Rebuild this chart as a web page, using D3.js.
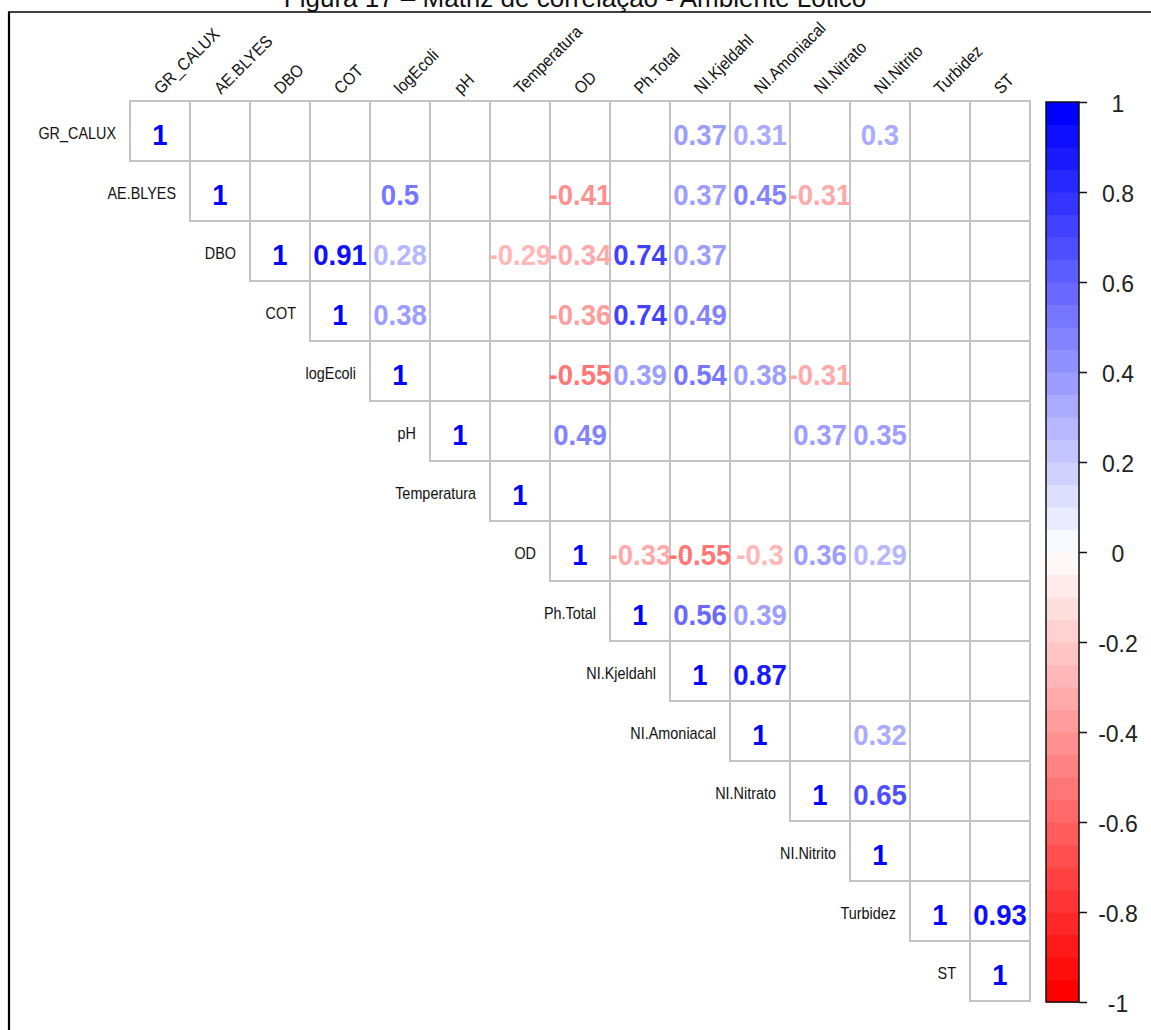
<!DOCTYPE html>
<html>
<head>
<meta charset="utf-8">
<script src="https://cdn.jsdelivr.net/npm/d3@7"></script>
<style>
  html, body { margin: 0; padding: 0; background: #fff; }
  svg { display: block; }
  text { font-family: "Liberation Sans", Arial, sans-serif; }
</style>
</head>
<body>
<svg id="chart" width="1151" height="1030"></svg>
<script>
// Variables of the correlation matrix (rows and columns share this order)
const variables = ["GR_CALUX", "AE.BLYES", "DBO", "COT", "logEcoli", "pH", "Temperatura",
  "OD", "Ph.Total", "NI.Kjeldahl", "NI.Amoniacal", "NI.Nitrato", "NI.Nitrito", "Turbidez", "ST"];

// Upper triangle, one row per variable, starting at the diagonal; null = not shown
const rowGR_CALUX   = [1, null, null, null, null, null, null, null, null, 0.37, 0.31, null, 0.3, null, null];
const rowAE_BLYES   = [1, null, null, 0.5, null, null, -0.41, null, 0.37, 0.45, -0.31, null, null, null];
const rowDBO        = [1, 0.91, 0.28, null, -0.29, -0.34, 0.74, 0.37, null, null, null, null, null];
const rowCOT        = [1, 0.38, null, null, -0.36, 0.74, 0.49, null, null, null, null, null];
const rowLogEcoli   = [1, null, null, -0.55, 0.39, 0.54, 0.38, -0.31, null, null, null];
const rowPH         = [1, null, 0.49, null, null, null, 0.37, 0.35, null, null];
const rowTemperatura= [1, null, null, null, null, null, null, null, null];
const rowOD         = [1, -0.33, -0.55, -0.3, 0.36, 0.29, null, null];
const rowPhTotal    = [1, 0.56, 0.39, null, null, null, null];
const rowKjeldahl   = [1, 0.87, null, null, null, null];
const rowAmoniacal  = [1, null, 0.32, null, null];
const rowNitrato    = [1, 0.65, null, null];
const rowNitrito    = [1, null, null];
const rowTurbidez   = [1, 0.93];
const rowST         = [1];

const corrRows = [rowGR_CALUX, rowAE_BLYES, rowDBO, rowCOT, rowLogEcoli, rowPH, rowTemperatura,
  rowOD, rowPhTotal, rowKjeldahl, rowAmoniacal, rowNitrato, rowNitrito, rowTurbidez, rowST];

// Colour legend ticks
const legendTicks = [-1, -0.8, -0.6, -0.4, -0.2, 0, 0.2, 0.4, 0.6, 0.8, 1];

const titleText = "Figura 17 – Matriz de correlação - Ambiente Lótico";

const svg = d3.select("#chart");

// Page frame and caption (caption sits against the top edge of the page)
svg.append("text")
  .attr("x", 575).attr("y", 7)
  .attr("text-anchor", "middle")
  .attr("font-size", 26)
  .attr("fill", "#111")
  .text(titleText);
svg.append("line").attr("x1", 8).attr("x2", 1151).attr("y1", 12).attr("y2", 12)
  .attr("stroke", "#000").attr("stroke-width", 1.6);
svg.append("line").attr("x1", 9).attr("x2", 9).attr("y1", 12).attr("y2", 1030)
  .attr("stroke", "#000").attr("stroke-width", 2.2);

// Scales
const x = d3.scaleBand().domain(variables).range([130, 1030]);
const y = d3.scaleBand().domain(variables).range([101, 1001]);

// 40-step red-white-blue palette
const nCol = 40;
const ramp = d3.scaleLinear().domain([0, 0.5, 1]).range(["#FF0000", "#FFFFFF", "#0000FF"]);
const palette = d3.range(nCol).map(k => d3.color(ramp(k / (nCol - 1))).formatHex());
const colorOf = v => palette[Math.max(0, Math.min(nCol - 1, Math.floor((v + 1) / 2 * nCol)))];

// Flatten to cells
const cells = [];
corrRows.forEach((row, i) => {
  row.forEach((v, k) => {
    const j = i + k;
    cells.push({ r: variables[i], c: variables[j], v });
  });
});

// Grid
svg.append("g").selectAll("rect").data(cells).join("rect")
  .attr("x", d => x(d.c)).attr("y", d => y(d.r))
  .attr("width", x.bandwidth()).attr("height", y.bandwidth())
  .attr("fill", "none").attr("stroke", "#c4c4c4").attr("stroke-width", 2);

// Coefficients
svg.append("g").selectAll("text").data(cells.filter(d => d.v !== null)).join("text")
  .attr("transform", d => `translate(${x(d.c) + x.bandwidth() / 2},${y(d.r) + y.bandwidth() / 2 + 14}) scale(0.92,1)`)
  .attr("text-anchor", "middle")
  .attr("font-size", 30)
  .attr("font-weight", "bold")
  .attr("fill", d => colorOf(d.v))
  .text(d => String(d.v));

// Row labels, placed left of the diagonal cell
svg.append("g").selectAll("text").data(variables).join("text")
  .attr("transform", d => `translate(${x(d) - 14},${y(d) + y.bandwidth() / 2 + 8}) scale(0.9,1)`)
  .attr("text-anchor", "end")
  .attr("font-size", 16)
  .attr("fill", "#111")
  .text(d => d);

// Column labels, rotated
svg.append("g").selectAll("text").data(variables).join("text")
  .attr("transform", d => `translate(${x(d) + x.bandwidth() / 2 + 1},95) rotate(-45) scale(0.92,1)`)
  .attr("text-anchor", "start")
  .attr("font-size", 17)
  .attr("fill", "#111")
  .text(d => d);

// Colour legend
const legX = 1046, legW = 33;
const ly = d3.scaleLinear().domain([-1, 1]).range([1002, 102]);
const stepH = (ly(-1) - ly(1)) / nCol;
svg.append("g").selectAll("rect").data(palette).join("rect")
  .attr("x", legX).attr("width", legW)
  .attr("y", (d, k) => ly(-1) - (k + 1) * stepH)
  .attr("height", stepH + 0.5)
  .attr("fill", d => d);
svg.append("rect").attr("x", legX).attr("y", ly(1)).attr("width", legW).attr("height", ly(-1) - ly(1))
  .attr("fill", "none").attr("stroke", "#111").attr("stroke-width", 1.5);

const legAxis = svg.append("g")
  .attr("transform", `translate(${legX + legW},0)`)
  .call(d3.axisRight(ly).tickValues(legendTicks).tickSize(8).tickFormat(d => String(d)));
legAxis.select(".domain").remove();
legAxis.selectAll(".tick line").attr("stroke", "#111").attr("stroke-width", 1.5);
legAxis.selectAll(".tick text")
  .attr("x", 1118 - (legX + legW))
  .attr("dy", "0.4em")
  .attr("text-anchor", "middle")
  .attr("font-size", 23)
  .attr("font-family", "Liberation Sans, Arial, sans-serif")
  .attr("fill", "#222");
</script>
</body>
</html>
